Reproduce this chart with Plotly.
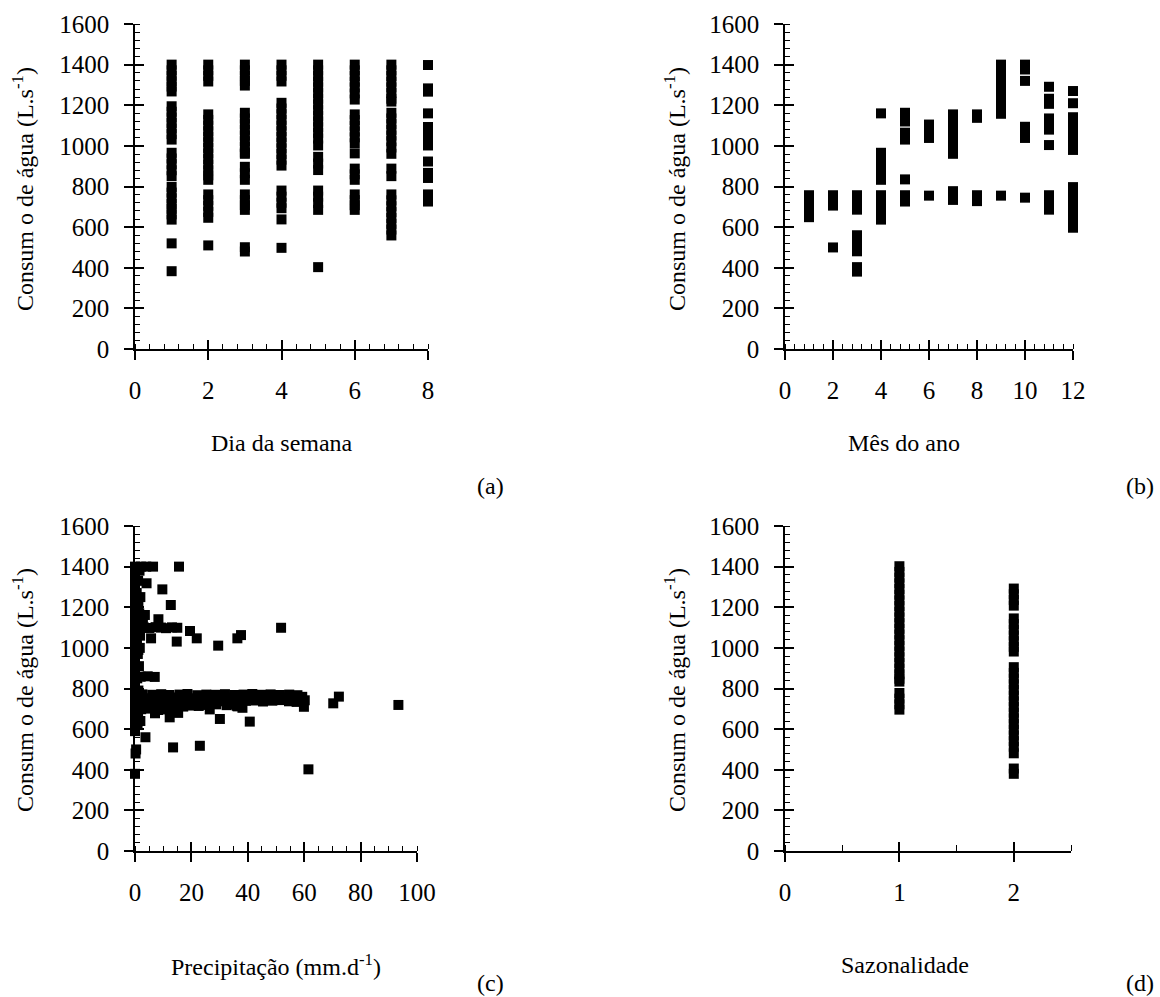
import plotly.graph_objects as go

FONT = "Liberation Serif, Times New Roman, Times, serif"
BLACK = "#000000"

# ---------------- (a) Dia da semana ----------------
dias = [1, 2, 3, 4, 5, 6, 7, 8]
dia_1 = [1400, 1372, 1345, 1318, 1292, 1268,
         1195, 1168, 1140, 1113, 1086, 1058, 1031,
         966, 938, 910, 880, 851,
         798, 770, 742, 714, 690, 663, 637,
         520, 383]
dia_2 = [1400, 1372, 1345, 1317,
         1155, 1128, 1100, 1072, 1045, 1018, 990, 963, 935, 908, 880, 855, 833,
         761, 733, 705, 675, 646,
         510]
dia_3 = [1400, 1372, 1345, 1320, 1297,
         1163, 1135, 1107, 1079, 1051, 1023, 995, 967, 961,
         897, 865, 833,
         761, 733, 708, 685,
         501, 480]
dia_4 = [1400, 1372, 1345, 1317,
         1212, 1184, 1156, 1128, 1100, 1072, 1044, 1016, 988, 960, 932, 903,
         780, 750, 720, 693,
         638,
         498]
dia_5 = [1400, 1372, 1344, 1316, 1288, 1260, 1232, 1204, 1176, 1148, 1120,
         1092, 1064, 1036, 1002,
         946, 913, 881,
         780, 750, 718, 685,
         403]
dia_6 = [1400, 1372, 1344, 1316, 1288, 1258, 1228,
         1155, 1127, 1099, 1071, 1042, 1013,
         963,
         888, 860, 833,
         761, 733, 708, 685]
dia_7 = [1400, 1372, 1344, 1316, 1288, 1260, 1232, 1218,
         1163, 1135, 1107, 1079, 1051, 1023, 992, 961,
         888, 851,
         761, 732, 703, 674, 645, 616, 588, 559]
dia_8 = [1398, 1283, 1267, 1160, 1093, 1063, 1033, 1002, 923, 867, 842, 761, 726]
consumo_dias = [dia_1, dia_2, dia_3, dia_4, dia_5, dia_6, dia_7, dia_8]

# ---------------- (b) Mês do ano ----------------
meses = [1, 2, 3, 4, 5, 6, 7, 8, 9, 10, 11, 12]
mes_1 = [757, 730, 703, 676, 649]
mes_2 = [757, 730, 706, 500]
mes_3 = [757, 730, 708, 686, 560, 535, 508, 481, 403, 381]
mes_4 = [1160, 966, 938, 910, 882, 855, 833, 757, 728, 698, 667, 637]
mes_5 = [1163, 1140, 1120, 1065, 1048, 1031, 835, 757, 740, 726]
mes_6 = [1105, 1083, 1061, 1039, 755]
mes_7 = [1155, 1127, 1099, 1071, 1043, 1015, 988, 961, 777, 755, 734]
mes_8 = [1155, 1138, 757, 740, 728]
mes_9 = [1400, 1372, 1344, 1316, 1288, 1258, 1230, 1200, 1172, 1158, 755]
mes_10 = [1400, 1376, 1320, 1094, 1066, 1039, 745]
mes_11 = [1291, 1232, 1207, 1135, 1108, 1080, 1004, 757, 730, 708, 686]
mes_12 = [1270, 1210, 1141, 1113, 1085, 1058, 1030, 1004, 980,
          797, 769, 741, 713, 685, 657, 628, 597]
consumo_meses = [mes_1, mes_2, mes_3, mes_4, mes_5, mes_6,
                 mes_7, mes_8, mes_9, mes_10, mes_11, mes_12]

# ---------------- (c) Precipitação ----------------
precip = [0, 0, 0, 0, 0, 0, 0, 0, 0, 0, 0, 0, 0, 0, 0, 0, 0, 0, 0, 0, 0, 0, 0, 0, 0, 0, 0, 0, 0, 0,
          0.4, 0.2, 0,
          0.8, 1.1, 0.6, 1.2, 0.9, 1.3, 0.7, 1.0, 1.4, 0.8, 1.2, 0.6, 1.1, 0.9,
          1.6, 1.9, 1.5, 1.8, 1.7, 2.0, 1.6, 1.9,
          2.1, 4.0, 6.4, 15.6,
          3.2, 5.1, 7.3, 9.2, 11.0, 13.1, 15.0,
          3.5, 2.8, 8.3, 4.1, 9.7, 12.7,
          51.8, 19.5, 21.9, 29.5, 36.3, 37.6, 14.8, 5.7, 1.2,
          2.0, 4.5, 7.0,
          2.6, 6.1, 9.3, 12.2, 15.8, 18.6, 22.1, 25.3, 28.4, 31.9, 35.2, 38.5, 41.6,
          44.8, 48.1, 51.4, 54.7, 57.6,
          2.1, 5.2, 8.0, 11.1, 13.9, 17.2, 20.1, 22.8, 26.0, 29.1, 31.8, 35.0, 38.2,
          41.1, 43.9, 47.0, 50.2, 52.9, 56.1, 59.3,
          3.4, 6.6, 9.4, 12.6, 15.3, 18.7, 21.4, 24.6, 27.3, 30.6, 33.4, 36.7, 39.3,
          42.6, 45.4, 48.7, 51.3, 54.6, 57.3, 60.2,
          1.6, 4.1, 6.4, 9.1, 11.6, 14.2, 17.1, 19.8, 22.6, 25.4, 28.8, 32.5, 36.1,
          2.2, 5.1, 8.2, 10.6, 13.4,
          7.1, 12.3, 15.3, 26.5, 30.1, 40.7, 34.2, 36.4, 38.1, 33.0,
          59.9, 70.3, 72.3, 93.4,
          3.7, 13.5, 23.0, 61.5]
consumo_precip = [1400, 1372, 1344, 1316, 1288, 1260, 1232, 1204, 1176, 1148, 1120, 1092, 1064,
                  1036, 1008, 980, 952, 924, 896, 868, 840, 812, 784, 756, 728, 700, 672, 644,
                  616, 590,
                  500, 480, 380,
                  1390, 1330, 1270, 1210, 1150, 1090, 1030, 970, 910, 850, 790, 730, 670, 620,
                  1380, 1250, 1170, 1060, 1000, 760, 700, 640,
                  1400, 1400, 1400, 1400,
                  1100, 1098, 1102, 1100, 1097, 1101, 1099,
                  1162, 1136, 1141, 1318, 1288, 1211,
                  1099, 1083, 1047, 1011, 1047, 1063, 1031, 1047, 990,
                  858, 860, 857,
                  771, 769, 772, 768, 770, 773, 767, 770, 769, 772, 768, 770, 773,
                  769, 771, 768, 770, 767,
                  755, 752, 757, 753, 756, 758, 752, 755, 754, 757, 751, 755, 758,
                  753, 756, 754, 757, 755, 752, 759,
                  738, 740, 735, 741, 737, 739, 742, 734, 740, 737, 742, 735, 739,
                  741, 736, 740, 743, 737, 734, 742,
                  718, 714, 719, 712, 717, 715, 711, 716, 714, 719, 722, 718, 715,
                  698, 701, 694, 697, 703,
                  678, 658, 680, 697, 650, 637, 722, 712, 705, 725,
                  710, 727, 760, 719,
                  560, 510, 518, 402]

# ---------------- (d) Sazonalidade ----------------
estacoes = [1, 2]
estacao_1 = [1402, 1374, 1346, 1318, 1290, 1262, 1234, 1206, 1178, 1150, 1122, 1094,
             1066, 1038, 1010, 982, 954, 926, 898, 870, 848, 834,
             778, 750, 722, 696]
estacao_2 = [1292, 1264, 1236, 1208,
             1145, 1117, 1089, 1061, 1033, 1005, 982,
             905, 877, 849, 821, 793, 765, 737, 709, 681, 653, 625, 597, 569, 541, 513, 481,
             406, 380]
consumo_estacoes = [estacao_1, estacao_2]

y_title = "Consum o de água (L.s<sup>-1</sup>)"

fig = go.Figure()


def add_points(xs, ys, xa, ya, size):
    fig.add_trace(go.Scatter(
        x=xs, y=ys, mode="markers", xaxis=xa, yaxis=ya,
        marker=dict(symbol="square", size=size, color=BLACK, line=dict(width=0)),
        cliponaxis=False, showlegend=False, hoverinfo="skip"))


def grouped(cats, groups, xa, ya, size=10):
    xs, ys = [], []
    for c, g in zip(cats, groups):
        xs += [c] * len(g)
        ys += g
    add_points(xs, ys, xa, ya, size)


grouped(dias, consumo_dias, "x", "y")
grouped(meses, consumo_meses, "x2", "y2")
add_points(precip, consumo_precip, "x3", "y3", 10)
grouped(estacoes, consumo_estacoes, "x4", "y4")

# dummy traces so the overlay (cross-tick) axes get drawn
for i in range(5, 9):
    fig.add_trace(go.Scatter(x=[None], y=[None], xaxis=f"x{i}", yaxis=f"y{i}",
                             mode="markers", showlegend=False, hoverinfo="skip"))


def main_axis(domain, anchor, rng, dtick, minor_dtick, is_y, minor_len=5):
    return dict(domain=domain, anchor=anchor, range=rng, dtick=dtick, tick0=0,
                automargin=False,
                showgrid=False, zeroline=False, showline=True, linecolor=BLACK,
                linewidth=1.6, ticks="outside", ticklen=9, tickwidth=1.6,
                tickcolor=BLACK, ticklabelstandoff=10 if is_y else 9,
                tickfont=dict(family=FONT, size=25, color=BLACK),
                minor=dict(ticks="inside", ticklen=minor_len, dtick=minor_dtick, tick0=0,
                           tickwidth=1.3, tickcolor=BLACK, showgrid=False),
                fixedrange=True)


def overlay_axis(over, anchor, rng, dtick):
    return dict(overlaying=over, anchor=anchor, range=rng, dtick=dtick, tick0=0,
                automargin=False,
                showgrid=False, zeroline=False, showline=False, ticks="inside",
                ticklen=9, tickwidth=1.6, tickcolor=BLACK, showticklabels=False,
                fixedrange=True)


A_X = [135 / 1160, 428 / 1160]
B_X = [785 / 1160, 1073 / 1160]
C_X = [135 / 1160, 417 / 1160]
D_X = [785 / 1160, 1071 / 1160]
TOP_Y = [1 - 349 / 997, 1 - 24 / 997]
BOT_Y = [1 - 851 / 997, 1 - 526 / 997]

YR = [0, 1600]
layout_axes = dict(
    xaxis=main_axis(A_X, "y", [0, 8], 2, 0.4, False),
    yaxis=main_axis(TOP_Y, "x", YR, 200, 40, True),
    xaxis2=main_axis(B_X, "y2", [0, 12], 2, 0.4, False),
    yaxis2=main_axis(TOP_Y, "x2", YR, 200, 40, True),
    xaxis3=main_axis(C_X, "y3", [0, 100], 20, 5, False),
    yaxis3=main_axis(BOT_Y, "x3", YR, 200, 40, True),
    xaxis4=main_axis(D_X, "y4", [0, 2.5], 1, 0.5, False, minor_len=6),
    yaxis4=main_axis(BOT_Y, "x4", YR, 200, 40, True),
    xaxis5=overlay_axis("x", "y", [0, 8], 2),
    yaxis5=overlay_axis("y", "x", YR, 200),
    xaxis6=overlay_axis("x2", "y2", [0, 12], 2),
    yaxis6=overlay_axis("y2", "x2", YR, 200),
    xaxis7=overlay_axis("x3", "y3", [0, 100], 20),
    yaxis7=overlay_axis("y3", "x3", YR, 200),
    xaxis8=overlay_axis("x4", "y4", [0, 2.5], 1),
    yaxis8=overlay_axis("y4", "x4", YR, 200),
)


def ann(text, px, py, angle=0, size=24, xanchor="center"):
    return dict(text=text, x=px / 1160, y=1 - py / 997, xref="paper", yref="paper",
                showarrow=False, textangle=angle, xanchor=xanchor, yanchor="middle",
                font=dict(family=FONT, size=size, color=BLACK))


annotations = [
    ann(y_title, 23, 189, -90),
    ann(y_title, 675, 189, -90),
    ann(y_title, 23, 690, -90),
    ann(y_title, 675, 690, -90),
    ann("Dia da semana", 282, 443),
    ann("Mês do ano", 904, 443),
    ann("Precipitação (mm.d<sup>-1</sup>)", 276, 965),
    ann("Sazonalidade", 905, 965),
    ann("(a)", 490, 486),
    ann("(b)", 1140, 486),
    ann("(c)", 490, 983),
    ann("(d)", 1140, 983),
]

fig.update_layout(
    template="none",
    width=1160, height=997,
    margin=dict(l=0, r=0, t=0, b=0, pad=0),
    paper_bgcolor="white", plot_bgcolor="white",
    font=dict(family=FONT, color=BLACK),
    showlegend=False,
    annotations=annotations,
    **layout_axes,
)

fig.write_html("out.html")
